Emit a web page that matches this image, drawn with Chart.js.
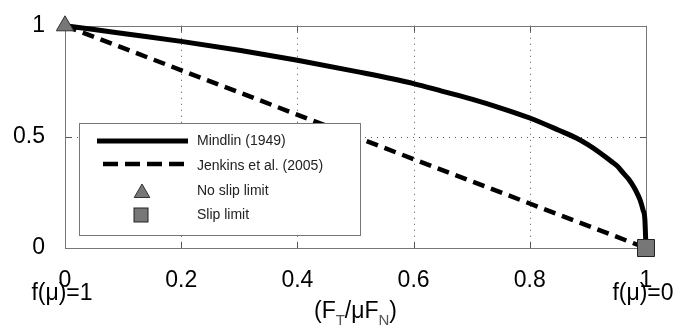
<!DOCTYPE html>
<html>
<head>
<meta charset="utf-8">
<script src="https://cdn.jsdelivr.net/npm/chart.js@4"></script>
<style>
  html, body { margin: 0; padding: 0; background: #fff; }
  #wrap { width: 693px; height: 328px; }
</style>
</head>
<body>
<div id="wrap"><canvas id="friction-chart" width="693" height="328"></canvas></div>
<script>
// values
var mindlinX = [0, 0.05, 0.1, 0.2, 0.3, 0.4, 0.5, 0.6, 0.65, 0.7, 0.75, 0.8, 0.85, 0.88, 0.9, 0.92, 0.94, 0.95, 0.96, 0.97, 0.98, 0.985, 0.99, 0.995, 0.998, 1];
var mindlinY = [1, 0.983, 0.965, 0.93, 0.89, 0.845, 0.795, 0.74, 0.705, 0.67, 0.63, 0.585, 0.53, 0.495, 0.465, 0.43, 0.39, 0.37, 0.34, 0.31, 0.27, 0.245, 0.215, 0.17, 0.13, 0];
var jenkinsX = [0, 1];
var jenkinsY = [1, 0];
var noSlip = [0, 1];
var slip = [1, 0];
var xTicks = [0, 0.2, 0.4, 0.6, 0.8, 1];
var yTicks = [0, 0.5, 1];
var legendLabels = ["Mindlin (1949)", "Jenkins et al. (2005)", "No slip limit", "Slip limit"];

var FONT = "'Liberation Sans', Arial, sans-serif";
var GRAY = "#777777";

function toPoints(xs, ys) {
    return xs.map(function(x, i){ return {x: x, y: ys[i]}; });
}

function tri(ctx, x, y, r) {
    ctx.beginPath();
    ctx.moveTo(x, y - r);
    ctx.lineTo(x + r * 0.866, y + r * 0.5);
    ctx.lineTo(x - r * 0.866, y + r * 0.5);
    ctx.closePath();
    ctx.fillStyle = GRAY;
    ctx.fill();
    ctx.lineWidth = 1;
    ctx.strokeStyle = "#333";
    ctx.stroke();
}

function sq(ctx, x, y, s) {
    ctx.fillStyle = GRAY;
    ctx.fillRect(x - s / 2, y - s / 2, s, s);
    ctx.lineWidth = 1;
    ctx.strokeStyle = "#222";
    ctx.strokeRect(x - s / 2, y - s / 2, s, s);
}

// axes box, dotted grid and inward tick marks (matlab look)
var framePlugin = {
    id: 'frame',
    beforeDatasetsDraw: function(chart) {
        var ctx = chart.ctx, a = chart.chartArea;
        var sx = chart.scales.x, sy = chart.scales.y;
        ctx.save();
        ctx.strokeStyle = "#555";
        ctx.lineWidth = 1;
        ctx.setLineDash([1, 5]);
        xTicks.forEach(function(t){
            if (t === 0 || t === 1) return;
            var px = Math.round(sx.getPixelForValue(t)) + 0.5;
            ctx.beginPath(); ctx.moveTo(px, a.top); ctx.lineTo(px, a.bottom); ctx.stroke();
        });
        yTicks.forEach(function(t){
            if (t === 0 || t === 1) return;
            var py = Math.round(sy.getPixelForValue(t)) + 0.5;
            ctx.beginPath(); ctx.moveTo(a.left, py); ctx.lineTo(a.right, py); ctx.stroke();
        });
        ctx.setLineDash([]);
        ctx.strokeStyle = "#555";
        xTicks.forEach(function(t){
            var px = Math.round(sx.getPixelForValue(t)) + 0.5;
            ctx.beginPath();
            ctx.moveTo(px, a.bottom); ctx.lineTo(px, a.bottom - 6);
            ctx.moveTo(px, a.top); ctx.lineTo(px, a.top + 6);
            ctx.stroke();
        });
        yTicks.forEach(function(t){
            var py = Math.round(sy.getPixelForValue(t)) + 0.5;
            ctx.beginPath();
            ctx.moveTo(a.left, py); ctx.lineTo(a.left + 6, py);
            ctx.moveTo(a.right, py); ctx.lineTo(a.right - 6, py);
            ctx.stroke();
        });
        ctx.strokeStyle = GRAY;
        ctx.strokeRect(Math.round(a.left) + 0.5, Math.round(a.top) + 0.5,
                       Math.round(a.right - a.left), Math.round(a.bottom - a.top));
        ctx.restore();
    },
    afterDraw: function(chart) {
        var ctx = chart.ctx, sx = chart.scales.x;
        ctx.save();
        // legend
        var L = 79.5, T = 123.5, W = 281, H = 112;
        ctx.fillStyle = "#fff";
        ctx.fillRect(L, T, W, H);
        ctx.strokeStyle = GRAY;
        ctx.lineWidth = 1;
        ctx.strokeRect(L, T, W, H);

        ctx.strokeStyle = "#000";
        ctx.lineWidth = 5;
        ctx.beginPath(); ctx.moveTo(97, 141); ctx.lineTo(188, 141); ctx.stroke();
        ctx.lineWidth = 4.5;
        ctx.setLineDash([15, 7]);
        ctx.beginPath(); ctx.moveTo(103, 164); ctx.lineTo(188, 164); ctx.stroke();
        ctx.setLineDash([]);
        tri(ctx, 142, 193, 9);
        sq(ctx, 141, 215, 14);

        ctx.fillStyle = "#222";
        ctx.font = "14px " + FONT;
        ctx.textBaseline = "middle";
        ctx.textAlign = "left";
        var rowsY = [141, 166, 191, 215];
        legendLabels.forEach(function(s, i){ ctx.fillText(s, 197, rowsY[i]); });

        // f(mu) notes under the end ticks
        ctx.fillStyle = "#000";
        ctx.font = "23px " + FONT;
        ctx.textAlign = "center";
        ctx.fillText("f(\u03bc)=1", sx.getPixelForValue(0) - 3, 294);
        ctx.fillText("f(\u03bc)=0", sx.getPixelForValue(1) - 3, 294);

        // axis title (F_T/muF_N) with subscripts
        var parts = [["(F", false], ["T", true], ["/\u03bcF", false], ["N", true], [")", false]];
        var big = "23px " + FONT, small = "15px " + FONT;
        var total = 0;
        parts.forEach(function(p){ ctx.font = p[1] ? small : big; total += ctx.measureText(p[0]).width; });
        var cx = (chart.chartArea.left + chart.chartArea.right) / 2 - total / 2;
        ctx.textAlign = "left";
        parts.forEach(function(p){
            ctx.font = p[1] ? small : big;
            ctx.fillStyle = p[1] ? "#555" : "#000";
            ctx.fillText(p[0], cx, p[1] ? 321 : 312);
            cx += ctx.measureText(p[0]).width;
        });
        ctx.restore();
    }
};

var frictionChart = new Chart(document.getElementById("friction-chart"), {
    type: 'scatter',
    data: {
        datasets: [
            {
                label: legendLabels[2],
                data: [{x: noSlip[0], y: noSlip[1]}],
                pointStyle: 'triangle',
                pointRadius: 10,
                backgroundColor: GRAY,
                borderColor: "#333",
                borderWidth: 1,
                clip: false,
                order: 0
            },
            {
                label: legendLabels[3],
                data: [{x: slip[0], y: slip[1]}],
                pointStyle: 'rect',
                pointRadius: 12,
                backgroundColor: GRAY,
                borderColor: "#222",
                borderWidth: 1,
                clip: false,
                order: 0
            },
            {
                label: legendLabels[0],
                data: toPoints(mindlinX, mindlinY),
                showLine: true,
                borderColor: "#000",
                borderWidth: 5,
                pointRadius: 0,
                cubicInterpolationMode: 'monotone',
                clip: false,
                order: 1
            },
            {
                label: legendLabels[1],
                data: toPoints(jenkinsX, jenkinsY),
                showLine: true,
                borderColor: "#000",
                borderWidth: 4.5,
                borderDash: [12, 7],
                pointRadius: 0,
                clip: false,
                order: 2
            }
        ]
    },
    options: {
        responsive: false,
        animation: false,
        layout: { padding: { top: 18, right: 47, left: 0, bottom: 0 } },
        plugins: { legend: { display: false }, tooltip: { enabled: false } },
        scales: {
            x: {
                type: 'linear', min: 0, max: 1,
                afterBuildTicks: function(s){ s.ticks = xTicks.map(function(v){ return {value: v}; }); },
                afterFit: function(s){ s.height = 80; },
                grid: { display: false },
                border: { display: false },
                ticks: {
                    padding: 11,
                    color: "#000",
                    font: { family: FONT, size: 23 },
                    maxRotation: 0,
                    callback: function(v){ return String(v); }
                }
            },
            y: {
                type: 'linear', min: 0, max: 1,
                afterBuildTicks: function(s){ s.ticks = yTicks.map(function(v){ return {value: v}; }); },
                afterFit: function(s){ s.width = 65; },
                grid: { display: false },
                border: { display: false },
                ticks: {
                    padding: 12,
                    color: "#000",
                    font: { family: FONT, size: 23 },
                    callback: function(v){ return String(v); }
                }
            }
        }
    },
    plugins: [framePlugin]
});
</script>
</body>
</html>
